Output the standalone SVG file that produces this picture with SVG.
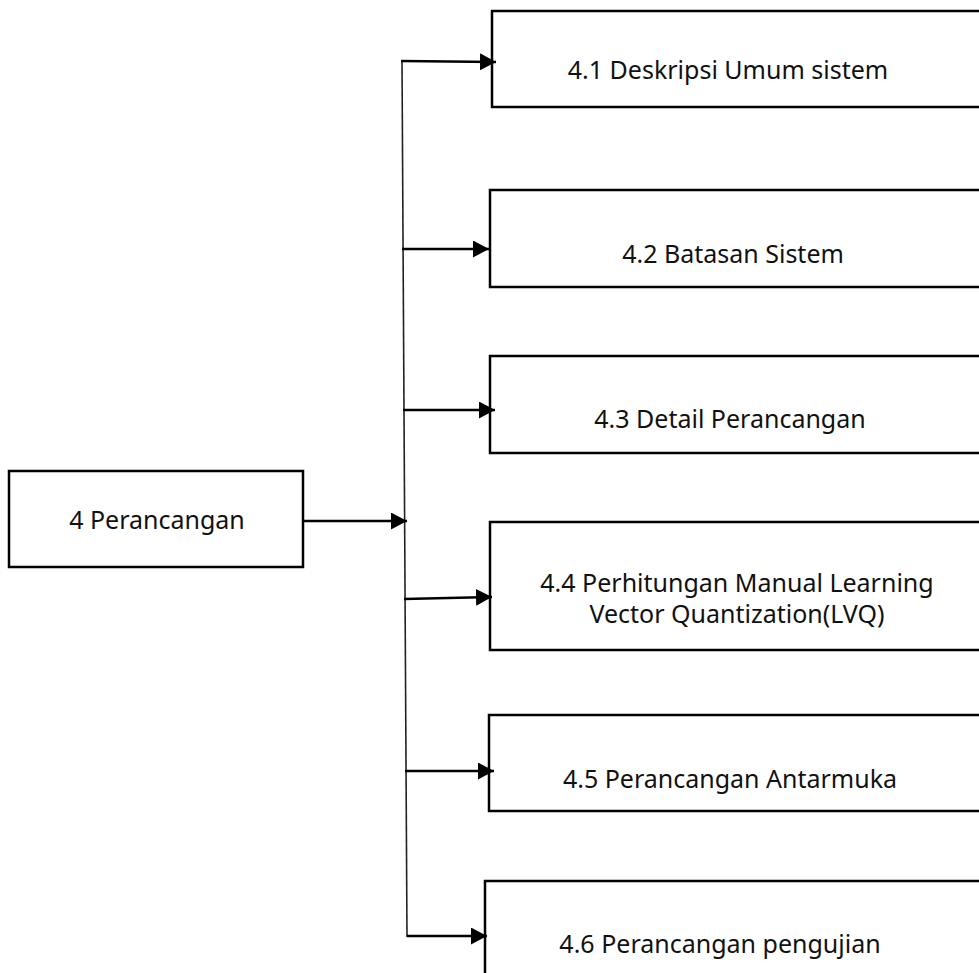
<svg xmlns="http://www.w3.org/2000/svg" width="979" height="973" viewBox="0 0 979 973">
<style>
.box{fill:#fff;stroke:#000;stroke-width:2.5}
.t{font-family:"Noto Sans","Open Sans",sans-serif;font-size:25px;fill:#111;text-anchor:middle}
.c{stroke:#000;stroke-width:2.3;fill:none}
.v{stroke:#222;stroke-width:1.6;fill:none}
</style>
<defs>
<marker id="ah" markerUnits="userSpaceOnUse" markerWidth="17" markerHeight="17" refX="16" refY="8.5" orient="auto">
<path d="M0,0 L16,8.5 L0,17 Z" fill="#000"/>
</marker>
</defs>
<rect width="979" height="973" fill="#fff"/>
<g id="node-4">
<rect class="box" x="9" y="471" width="294" height="96"/>
<text class="t" x="157" y="529">4 Perancangan</text>
</g>
<g id="node-4-1">
<rect class="box" x="492" y="11" width="500" height="96"/>
<text class="t" x="728" y="79">4.1 Deskripsi Umum sistem</text>
</g>
<g id="node-4-2">
<rect class="box" x="490" y="190" width="500" height="97"/>
<text class="t" x="733" y="263">4.2 Batasan Sistem</text>
</g>
<g id="node-4-3">
<rect class="box" x="490" y="356" width="500" height="97"/>
<text class="t" x="730" y="428">4.3 Detail Perancangan</text>
</g>
<g id="node-4-4">
<rect class="box" x="490" y="522" width="500" height="128"/>
<text class="t" x="737" y="592">4.4 Perhitungan Manual Learning</text>
<text class="t" x="737" y="623">Vector Quantization(LVQ)</text>
</g>
<g id="node-4-5">
<rect class="box" x="489" y="715" width="500" height="96"/>
<text class="t" x="730" y="788">4.5 Perancangan Antarmuka</text>
</g>
<g id="node-4-6">
<rect class="box" x="485" y="881" width="500" height="120"/>
<text class="t" x="720" y="953">4.6 Perancangan pengujian</text>
</g>
<g id="connectors">
<line class="v" x1="402" y1="60" x2="407" y2="937"/>
<line class="c" x1="303" y1="521" x2="407" y2="521" marker-end="url(#ah)"/>
<line class="c" x1="401" y1="61" x2="496" y2="62" marker-end="url(#ah)"/>
<line class="c" x1="402" y1="249" x2="489" y2="249" marker-end="url(#ah)"/>
<line class="c" x1="403" y1="410" x2="495" y2="410" marker-end="url(#ah)"/>
<line class="c" x1="404" y1="599" x2="492" y2="597" marker-end="url(#ah)"/>
<line class="c" x1="405" y1="771" x2="494" y2="771" marker-end="url(#ah)"/>
<line class="c" x1="407" y1="936" x2="487" y2="936" marker-end="url(#ah)"/>
</g>
</svg>
